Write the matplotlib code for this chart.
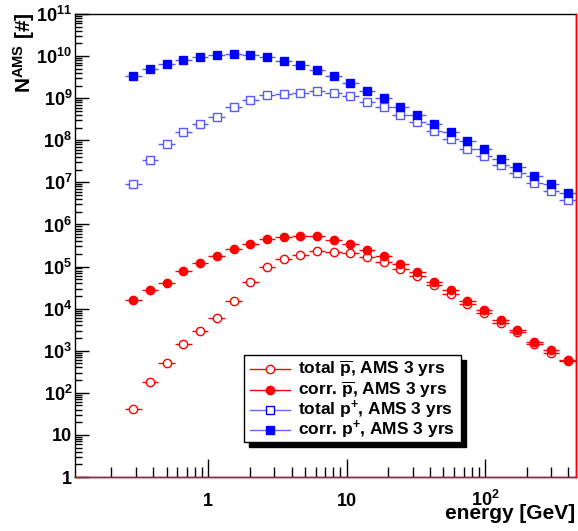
import matplotlib
matplotlib.use("Agg")
import matplotlib.pyplot as plt
from matplotlib.lines import Line2D
from matplotlib.patches import Rectangle
import numpy as np

plt.rcParams['font.family'] = ['Liberation Sans', 'DejaVu Sans']
plt.rcParams['font.weight'] = 'bold'
plt.rcParams['mathtext.default'] = 'regular'

# bin centres and edges [GeV]
energy = [0.288, 0.380, 0.501, 0.662, 0.875, 1.154, 1.524, 2.013, 2.655, 3.508,
          4.63, 6.12, 8.07, 10.66, 14.07, 18.6, 24.5, 32.4, 42.8, 56.5,
          74.5, 98.4, 130, 171, 226, 299, 395]
edges = [0.251, 0.331, 0.437, 0.577, 0.762, 1.005, 1.327, 1.753, 2.312, 3.055,
         4.036, 5.32, 7.03, 9.29, 12.25, 16.18, 21.4, 28.2, 37.2, 49.2,
         64.9, 85.7, 113.2, 149.3, 197.2, 260.6, 343.6, 454]

# counts
total_pbar = [42, 184, 511, 1445, 2890, 5980, 1.52e4, 4.30e4, 9.75e4, 1.53e5,
              1.88e5, 2.30e5, 2.18e5, 2.07e5, 1.66e5, 1.26e5, 8.75e4, 5.86e4, 3.58e4, 2.26e4,
              1.27e4, 7740, 4560, 2740, 1470, 897, 570]
corr_pbar = [1.58e4, 2.73e4, 4.06e4, 7.71e4, 1.21e5, 1.81e5, 2.65e5, 3.49e5, 4.44e5, 5.09e5,
             5.32e5, 5.24e5, 4.20e5, 3.44e5, 2.47e5, 1.75e5, 1.15e5, 7.29e4, 4.30e4, 2.73e4,
             1.54e4, 9440, 5280, 3160, 1640, 1020, 592]
total_p = [9.3e6, 3.34e7, 8.02e7, 1.55e8, 2.39e8, 3.52e8, 6.28e8, 9.06e8, 1.17e9, 1.26e9,
           1.35e9, 1.51e9, 1.31e9, 1.13e9, 8.24e8, 6.17e8, 3.92e8, 2.67e8, 1.63e8, 1.05e8,
           6.31e7, 4.23e7, 2.54e7, 1.64e7, 9.82e6, 6.34e6, 3.81e6]
corr_p = [3.37e9, 4.85e9, 6.49e9, 7.94e9, 9.35e9, 1.06e10, 1.12e10, 1.06e10, 9.35e9, 7.64e9,
          6.14e9, 4.68e9, 3.31e9, 2.33e9, 1.51e9, 9.93e8, 6.07e8, 3.98e8, 2.44e8, 1.57e8,
          9.77e7, 6.10e7, 3.65e7, 2.36e7, 1.44e7, 9.29e6, 5.58e6]

x_ticks = [1, 10, 100]
x_ticklabels = ['1', '10', '$10^{2}$']
y_ticks = [1, 10, 1e2, 1e3, 1e4, 1e5, 1e6, 1e7, 1e8, 1e9, 1e10, 1e11]
y_ticklabels = ['1', '10'] + ['$10^{%d}$' % n for n in range(2, 12)]

legend_labels = [r'total $\overline{p}$, AMS 3 yrs', r'corr. $\overline{p}$, AMS 3 yrs',
                 'total $p^{+}$, AMS 3 yrs', 'corr. $p^{+}$, AMS 3 yrs']

e = np.array(energy)
ed = np.array(edges)
xerr = [e - ed[:-1], ed[1:] - e]

W, H = 578, 531
fig = plt.figure(figsize=(W / 100, H / 100), dpi=100)
ax = fig.add_axes([75 / W, 1 - 477 / H, 501 / W, 463 / H])
ax.set_xscale('log')
ax.set_yscale('log')
ax.set_xlim(0.109, 455)
ax.set_ylim(1, 1e11)

lblue = '#5858ff'
styles = [
    (total_pbar, 'o', 'red', 'white', 'red'),
    (corr_pbar, 'o', 'red', 'red', 'red'),
    (total_p, 's', lblue, 'white', lblue),
    (corr_p, 's', 'blue', 'blue', lblue),
]
for vals, m, ec, fc, lc in styles:
    ax.errorbar(e, vals, xerr=xerr, fmt=m, ms=6, mec=ec, mfc=fc, mew=1.0,
                ecolor=lc, elinewidth=1.0, capsize=0, zorder=3)

# red baseline and right edge
ax.plot([0.109, 455], [1, 1], color='red', lw=1, clip_on=False, zorder=4)
ax.plot([455, 455], [1, 1e11], color='red', lw=1, clip_on=False, zorder=4)

for s in ['top', 'right', 'left', 'bottom']:
    ax.spines[s].set_linewidth(1.0)

ax.set_xticks(x_ticks)
ax.set_xticklabels(x_ticklabels)
ax.set_yticks(y_ticks)
ax.set_yticklabels(y_ticklabels)
ax.xaxis.set_minor_locator(matplotlib.ticker.LogLocator(base=10, subs=np.arange(2, 10), numticks=20))
ax.yaxis.set_minor_locator(matplotlib.ticker.LogLocator(base=10, subs=np.arange(2, 10), numticks=20))
ax.xaxis.set_minor_formatter(matplotlib.ticker.NullFormatter())
ax.yaxis.set_minor_formatter(matplotlib.ticker.NullFormatter())
ax.tick_params(axis='x', which='major', direction='in', length=13, width=1, labelsize=13, pad=21)
ax.tick_params(axis='x', which='minor', direction='in', length=7, width=1)
ax.tick_params(axis='y', which='major', direction='in', length=10, width=1, labelsize=13, pad=2)
ax.tick_params(axis='y', which='minor', direction='in', length=5, width=1)
for lab in ax.get_xticklabels():
    lab.set_verticalalignment('baseline')

fig.text(575 / W, 1 - 519 / H, 'energy [GeV]', fontsize=15, fontweight='bold',
         ha='right', va='baseline')
fig.text(24 / W, 1 - 12 / H, 'N$^{AMS}$ [#]', fontsize=15, fontweight='bold',
         rotation=90, ha='center', va='top')

# legend box with shadow, entries drawn by hand
bx0, by0, bx1, by1 = 244, 355, 461, 442
fig.patches.append(Rectangle(((bx0 + 5) / W, 1 - (by1 + 5) / H), (bx1 - bx0) / W, (by1 - by0) / H,
                             transform=fig.transFigure, facecolor='black', edgecolor='black', zorder=5))
fig.patches.append(Rectangle((bx0 / W, 1 - by1 / H), (bx1 - bx0) / W, (by1 - by0) / H,
                             transform=fig.transFigure, facecolor='white', edgecolor='black',
                             lw=1, zorder=6))
row_y = [369, 390, 410, 430]
leg_colors = [('red', 'red', 'white'), ('red', 'red', 'red'),
              ('#6666ff', 'blue', 'white'), ('#6666ff', 'blue', 'blue')]
leg_markers = ['o', 'o', 's', 's']
for yy, lab, (lc, mec, mfc), m in zip(row_y, legend_labels, leg_colors, leg_markers):
    fy = 1 - yy / H
    fig.add_artist(Line2D([250 / W, 290 / W], [fy, fy], color=lc, lw=1, zorder=7))
    fig.add_artist(Line2D([270 / W], [fy], marker=m, ms=6, mec=mec, mfc=mfc, mew=1, zorder=8))
    fig.text(298 / W, fy, lab, fontsize=12.5, fontweight='bold', ha='left', va='center', zorder=8)

fig.savefig('out.png', dpi=100)
